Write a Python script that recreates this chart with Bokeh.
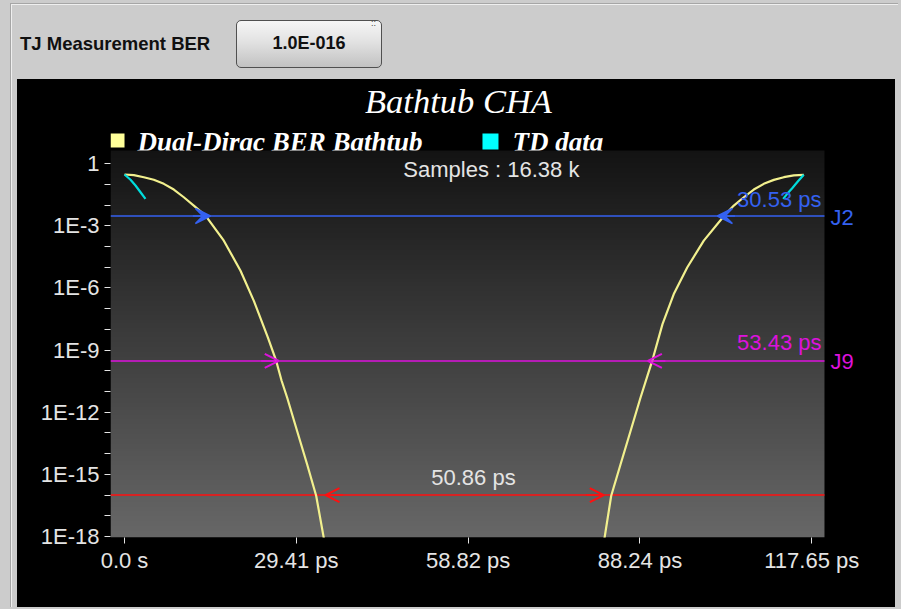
import numpy as np
from bokeh.plotting import figure
from bokeh.core.properties import value
from bokeh.models import (FixedTicker, CustomJSTickFormatter, Label, Arrow,
                          VeeHead, OpenHead, Div, Spacer, Range1d)
from bokeh.layouts import column, row
from bokeh.embed import file_html
from bokeh.resources import INLINE

# ---------------- data ----------------
x_ticks_ps = [0.0, 29.41, 58.82, 88.24, 117.65]
y_major_ticks = [1, 1e-3, 1e-6, 1e-9, 1e-12, 1e-15, 1e-18]
y_minor_ticks = [1e-1, 1e-2, 1e-4, 1e-5, 1e-7, 1e-8, 1e-10, 1e-11, 1e-13, 1e-14, 1e-16, 1e-17]

# Dual-Dirac BER bathtub (left and right walls), time in ps
dd_left_ps = [0.0, 1.60, 3.30, 5.01, 6.73, 8.44, 10.15, 11.86, 13.87, 17.00, 19.86,
              22.14, 24.55, 25.97, 26.88, 27.85, 29.56, 31.27, 32.81, 34.12]
dd_left_ber = [0.303, 0.281, 0.224, 0.168, 0.107, 0.0569, 0.0241, 0.00957, 0.00313,
               1.93e-4, 6.8e-6, 2.4e-7, 4.0e-9, 3.0e-10, 3.4e-11, 5.0e-12, 1.2e-13,
               3.0e-15, 9.3e-17, 8.3e-19]
dd_right_ps = [116.29, 114.58, 112.87, 111.16, 109.44, 107.73, 106.02, 104.31, 102.59,
               99.17, 96.33, 94.03, 92.10, 90.33, 88.33, 86.62, 84.91, 83.32, 82.17]
dd_right_ber = [0.293, 0.276, 0.224, 0.166, 0.107, 0.0569, 0.0241, 0.00957, 0.00290,
                1.93e-4, 9.8e-6, 5.1e-7, 1.8e-8, 3.0e-10, 5.0e-12, 1.2e-13, 3.0e-15,
                9.3e-17, 8.3e-19]

# TD data
td_left_ps = [0.0, 1.03, 1.88, 2.74, 3.59]
td_left_ber = [0.303, 0.168, 0.089, 0.042, 0.020]
td_right_ps = [116.29, 115.26, 114.30, 113.45, 112.76]
td_right_ber = [0.293, 0.139, 0.0658, 0.0352, 0.0202]

# measurement levels
level_names = ["J2", "J9", "TJ"]
level_ber = [3.0e-3, 3.0e-10, 1.0e-16]
level_edges_ps = [[14.7, 101.5], [26.4, 89.6], [34.4, 82.05]]
level_texts = ["30.53 ps", "53.43 ps", "50.86 ps"]
samples_text = "Samples : 16.38 k"
legend_names = ["Dual-Dirac BER Bathtub", "TD data"]

# ---------------- style ----------------
C_YEL = "#f2f08e"
C_CYAN = "#00dcdc"
C_BLUE = "#3461f0"
C_MAG = "#dc12dc"
C_RED = "#ff1010"
C_TXT = "#e4e4e4"
level_colors = [C_BLUE, C_MAG, C_RED]

# visible (grey) plot area, and the larger frame that also holds title / legend / J-labels
X0, X1 = -2.40, 119.83
LY0, LY1 = -18.05, 0.64
FX1 = 129.42
FLY1 = 3.779

p = figure(width=878, height=528, title=None,
           x_range=Range1d(X0, FX1), y_range=Range1d(10 ** LY0, 10 ** FLY1),
           y_axis_type="log", output_backend="svg", toolbar_location=None,
           min_border_left=93, min_border_right=15, min_border_top=6,
           min_border_bottom=70, border_fill_color="black",
           background_fill_color="black", styles={"background-color": "black"})
p.outline_line_color = None
p.xgrid.visible = False
p.ygrid.visible = False

# legend labels (drawn first so the grey plot area slightly covers their feet)
for lx, name in zip([2.22, 66.42], legend_names):
    p.text(x=[lx], y=[10 ** 1.05], text=[name], text_color="white",
           text_font=value("Liberation Serif"), text_font_style="bold italic",
           text_font_size="27px", text_baseline="alphabetic", level="image")

# vertical gradient background of the plot area
n = 160
t = np.linspace(0.0, 1.0, n)
g = np.round(0x67 - t * (0x67 - 0x13)).astype(np.uint8)
img = np.zeros((n, 1), dtype=np.uint32)
view = img.view(dtype=np.uint8).reshape((n, 1, 4))
view[:, 0, 0] = g
view[:, 0, 1] = g
view[:, 0, 2] = g
view[:, 0, 3] = 255
p.image_rgba(image=[img], x=X0, y=10 ** LY0, dw=X1 - X0, dh=10 ** LY1 - 10 ** LY0,
             level="image")

# legend squares
p.quad(left=[X0, 61.28], right=[0.0, 64.02], bottom=[10 ** 0.785, 10 ** 0.688],
       top=[10 ** 1.461, 10 ** 1.461], fill_color=["#ffff99", "#00ffff"],
       line_color=None)

# axes
for ax in (p.xaxis[0], p.yaxis[0]):
    ax.axis_line_color = None
    ax.major_tick_line_color = C_TXT
    ax.minor_tick_line_color = C_TXT
    ax.major_tick_in = 0
    ax.minor_tick_in = 0
    ax.major_tick_out = 6
    ax.minor_tick_out = 6
    ax.major_label_text_color = C_TXT
    ax.major_label_text_font = "Liberation Sans"
    ax.major_label_text_font_size = "22px"

p.xaxis.ticker = FixedTicker(ticks=x_ticks_ps, minor_ticks=[])
p.xaxis.formatter = CustomJSTickFormatter(
    code="return tick == 0 ? '0.0 s' : tick.toFixed(2) + ' ps';")
p.xaxis.major_label_standoff = 4

p.yaxis.ticker = FixedTicker(ticks=y_major_ticks, minor_ticks=y_minor_ticks)
p.yaxis.formatter = CustomJSTickFormatter(
    code="const e = Math.round(Math.log10(tick)); return e == 0 ? '1' : '1E' + e;")
p.yaxis.major_label_standoff = 5

# level lines across the plot area
p.segment(x0=[X0] * 3, x1=[X1] * 3, y0=level_ber, y1=level_ber,
          line_color=level_colors, line_width=1.6)

# curves
p.line(dd_left_ps, dd_left_ber, line_color=C_YEL, line_width=2.2)
p.line(dd_right_ps, dd_right_ber, line_color=C_YEL, line_width=2.2)
p.line(td_left_ps, td_left_ber, line_color=C_CYAN, line_width=2.2)
p.line(td_right_ps, td_right_ber, line_color=C_CYAN, line_width=2.2)

# arrows
def arrow(x_tip, direction, yv, col, head):
    p.add_layout(Arrow(end=head, x_start=x_tip - direction * 3.0, x_end=x_tip,
                       y_start=yv, y_end=yv, line_color=col, line_width=1.6))

for i, (lv, col) in enumerate(zip(level_ber, level_colors)):
    left, right = level_edges_ps[i]
    d = 1 if i < 2 else -1   # J2/J9 arrows point at the walls, TJ arrows point outward
    for xt, dr in ((left, d), (right, -d)):
        if i == 0:
            head = VeeHead(size=15, fill_color=col, line_color=col, line_width=1.5)
        else:
            head = OpenHead(size=14, line_color=col, line_width=2)
        arrow(xt, dr, lv, col, head)

# texts
def lab(x, y, text, color, align="left", size="22px", font="Liberation Sans", style="normal"):
    p.add_layout(Label(x=x, y=y, text=text, text_color=color, text_align=align,
                       text_baseline="alphabetic", text_font=font,
                       text_font_size=size, text_font_style=style))

lab(62.8, 10 ** -0.274, samples_text, C_TXT, align="center")
lab(119.32, 10 ** -1.734, level_texts[0], C_BLUE, align="right")
lab(119.32, 10 ** -8.654, level_texts[1], C_MAG, align="right")
lab(120.86, 10 ** -2.604, level_names[0], C_BLUE)
lab(120.86, 10 ** -9.55, level_names[1], C_MAG)
lab(59.74, 10 ** -15.17, level_texts[2], C_TXT, align="center")
lab(57.17, 10 ** 3.04, "Bathtub CHA", "white", align="center", size="34.5px",
    font="Liberation Serif", style="italic")

# ---------------- top control bar ----------------
top_html = """
<div style="position:relative;width:895px;height:79px;font-family:'Liberation Sans',Arial,sans-serif;">
  <div style="position:absolute;left:10px;top:3px;width:888px;height:1px;background:#a6a6a6;"></div>
  <div style="position:absolute;left:11px;top:4px;width:887px;height:1px;background:#efefef;"></div>
  <div style="position:absolute;left:10px;top:3px;width:1px;height:76px;background:#a6a6a6;"></div>
  <div style="position:absolute;left:11px;top:4px;width:1px;height:75px;background:#efefef;"></div>
  <span style="position:absolute;left:20px;top:31px;font-weight:bold;font-size:18.5px;color:#101010;white-space:nowrap;">TJ Measurement BER</span>
  <div style="position:absolute;left:236px;top:20px;width:146px;height:48px;box-sizing:border-box;
              border:1px solid #505050;border-radius:5px;
              background:linear-gradient(#f6f6f6,#e2e2e2 45%,#c2c2c2);
              display:flex;align-items:center;justify-content:center;
              font-weight:bold;font-size:18px;color:#101010;">1.0E-016</div>
  <span style="position:absolute;left:371px;top:17px;font-size:9px;color:#444;">::</span>
</div>
"""
top = Div(text=top_html, width=895, height=79, margin=0)

side = Spacer(width=17, height=528, styles={
    "background": "linear-gradient(to right, transparent 10px, #a6a6a6 10px, #a6a6a6 11px, "
                  "#efefef 11px, #efefef 12px, transparent 12px)"})

layout = column(top, row(side, p))

html = file_html(layout, INLINE)
html = html.replace("</head>", "<style>html, body { background-color: #cccccc; }</style></head>", 1)
open("out.html", "w").write(html)
